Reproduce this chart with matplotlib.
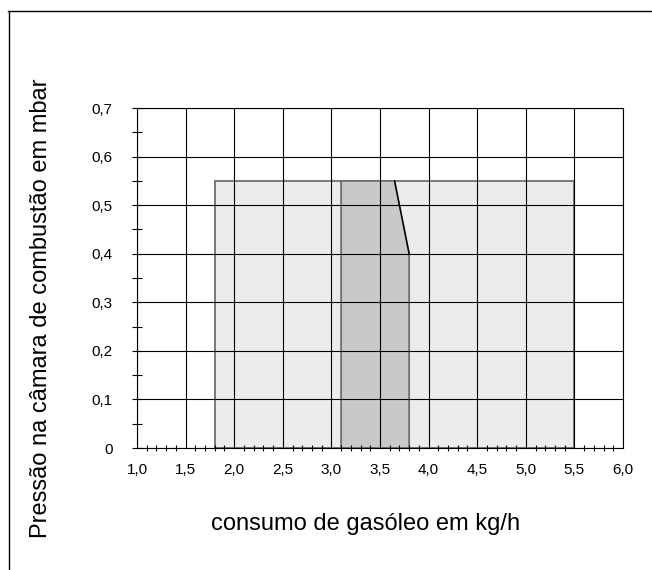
import numpy as np
import matplotlib.pyplot as plt
from matplotlib.patches import Polygon
from matplotlib.lines import Line2D

# data
x_ticks = [1.0, 1.5, 2.0, 2.5, 3.0, 3.5, 4.0, 4.5, 5.0, 5.5, 6.0]
y_ticks = [0, 0.1, 0.2, 0.3, 0.4, 0.5, 0.6, 0.7]
x_labels = ['1,0', '1,5', '2,0', '2,5', '3,0', '3,5', '4,0', '4,5', '5,0', '5,5', '6,0']
y_labels = ['0', '0,1', '0,2', '0,3', '0,4', '0,5', '0,6', '0,7']

# working range (light) and narrower range (dark)
light_x = [1.8, 1.8, 5.5, 5.5]
light_y = [0, 0.55, 0.55, 0]
dark_x = [3.1, 3.1, 3.65, 3.8, 3.8]
dark_y = [0, 0.55, 0.55, 0.4, 0]

plt.rcParams['font.family'] = ['Liberation Sans', 'DejaVu Sans']

fig = plt.figure(figsize=(6.52, 5.70), dpi=100)
ax = fig.add_axes([0.2101, 0.214, 0.7454, 0.5965])

ax.add_patch(Polygon(np.column_stack([light_x, light_y]), closed=True,
                     facecolor='#ebecee', edgecolor='#6f6f6f', linewidth=1.3, zorder=1))
ax.add_patch(Polygon(np.column_stack([dark_x, dark_y]), closed=True,
                     facecolor='#c9c9cb', edgecolor='#6f6f6f', linewidth=1.3, zorder=2))
# sloped edge in black
ax.plot(dark_x[2:4], dark_y[2:4], color='k', linewidth=1.0, zorder=3)

ax.set_xlim(1.0, 6.0)
ax.set_ylim(0, 0.7)
ax.set_xticks(x_ticks)
ax.set_xticklabels(x_labels, fontsize=11)
ax.set_yticks(y_ticks)
ax.set_yticklabels(y_labels, fontsize=11)
ax.set_xticks(np.arange(1.0, 6.01, 0.1), minor=True)
ax.set_yticks(np.arange(0.05, 0.7, 0.1), minor=True)

ax.grid(True, which='major', color='k', linewidth=0.8, zorder=4)
ax.set_axisbelow(False)
ax.tick_params(axis='x', which='major', length=0, pad=11)
ax.tick_params(axis='x', which='minor', direction='inout', length=5, width=0.8, bottom=True)
ax.tick_params(axis='y', which='both', direction='inout', length=7, width=0.8, pad=14)
for s in ax.spines.values():
    s.set_linewidth(0.8)
    s.set_zorder(5)

fig.text(0.56, 0.070, 'consumo de gasóleo em kg/h', fontsize=17,
         ha='center', va='baseline')
fig.text(0.063, 0.46, 'Pressão na câmara de combustão em mbar', rotation=90,
         fontsize=17, ha='center', va='center')

# outer frame (top and left only)
fig.add_artist(Line2D([0.013, 1.0], [0.981, 0.981], color='k', linewidth=1.0))
fig.add_artist(Line2D([0.0145, 0.0145], [0.0, 0.981], color='k', linewidth=1.0))

plt.savefig('out.png', dpi=100)
